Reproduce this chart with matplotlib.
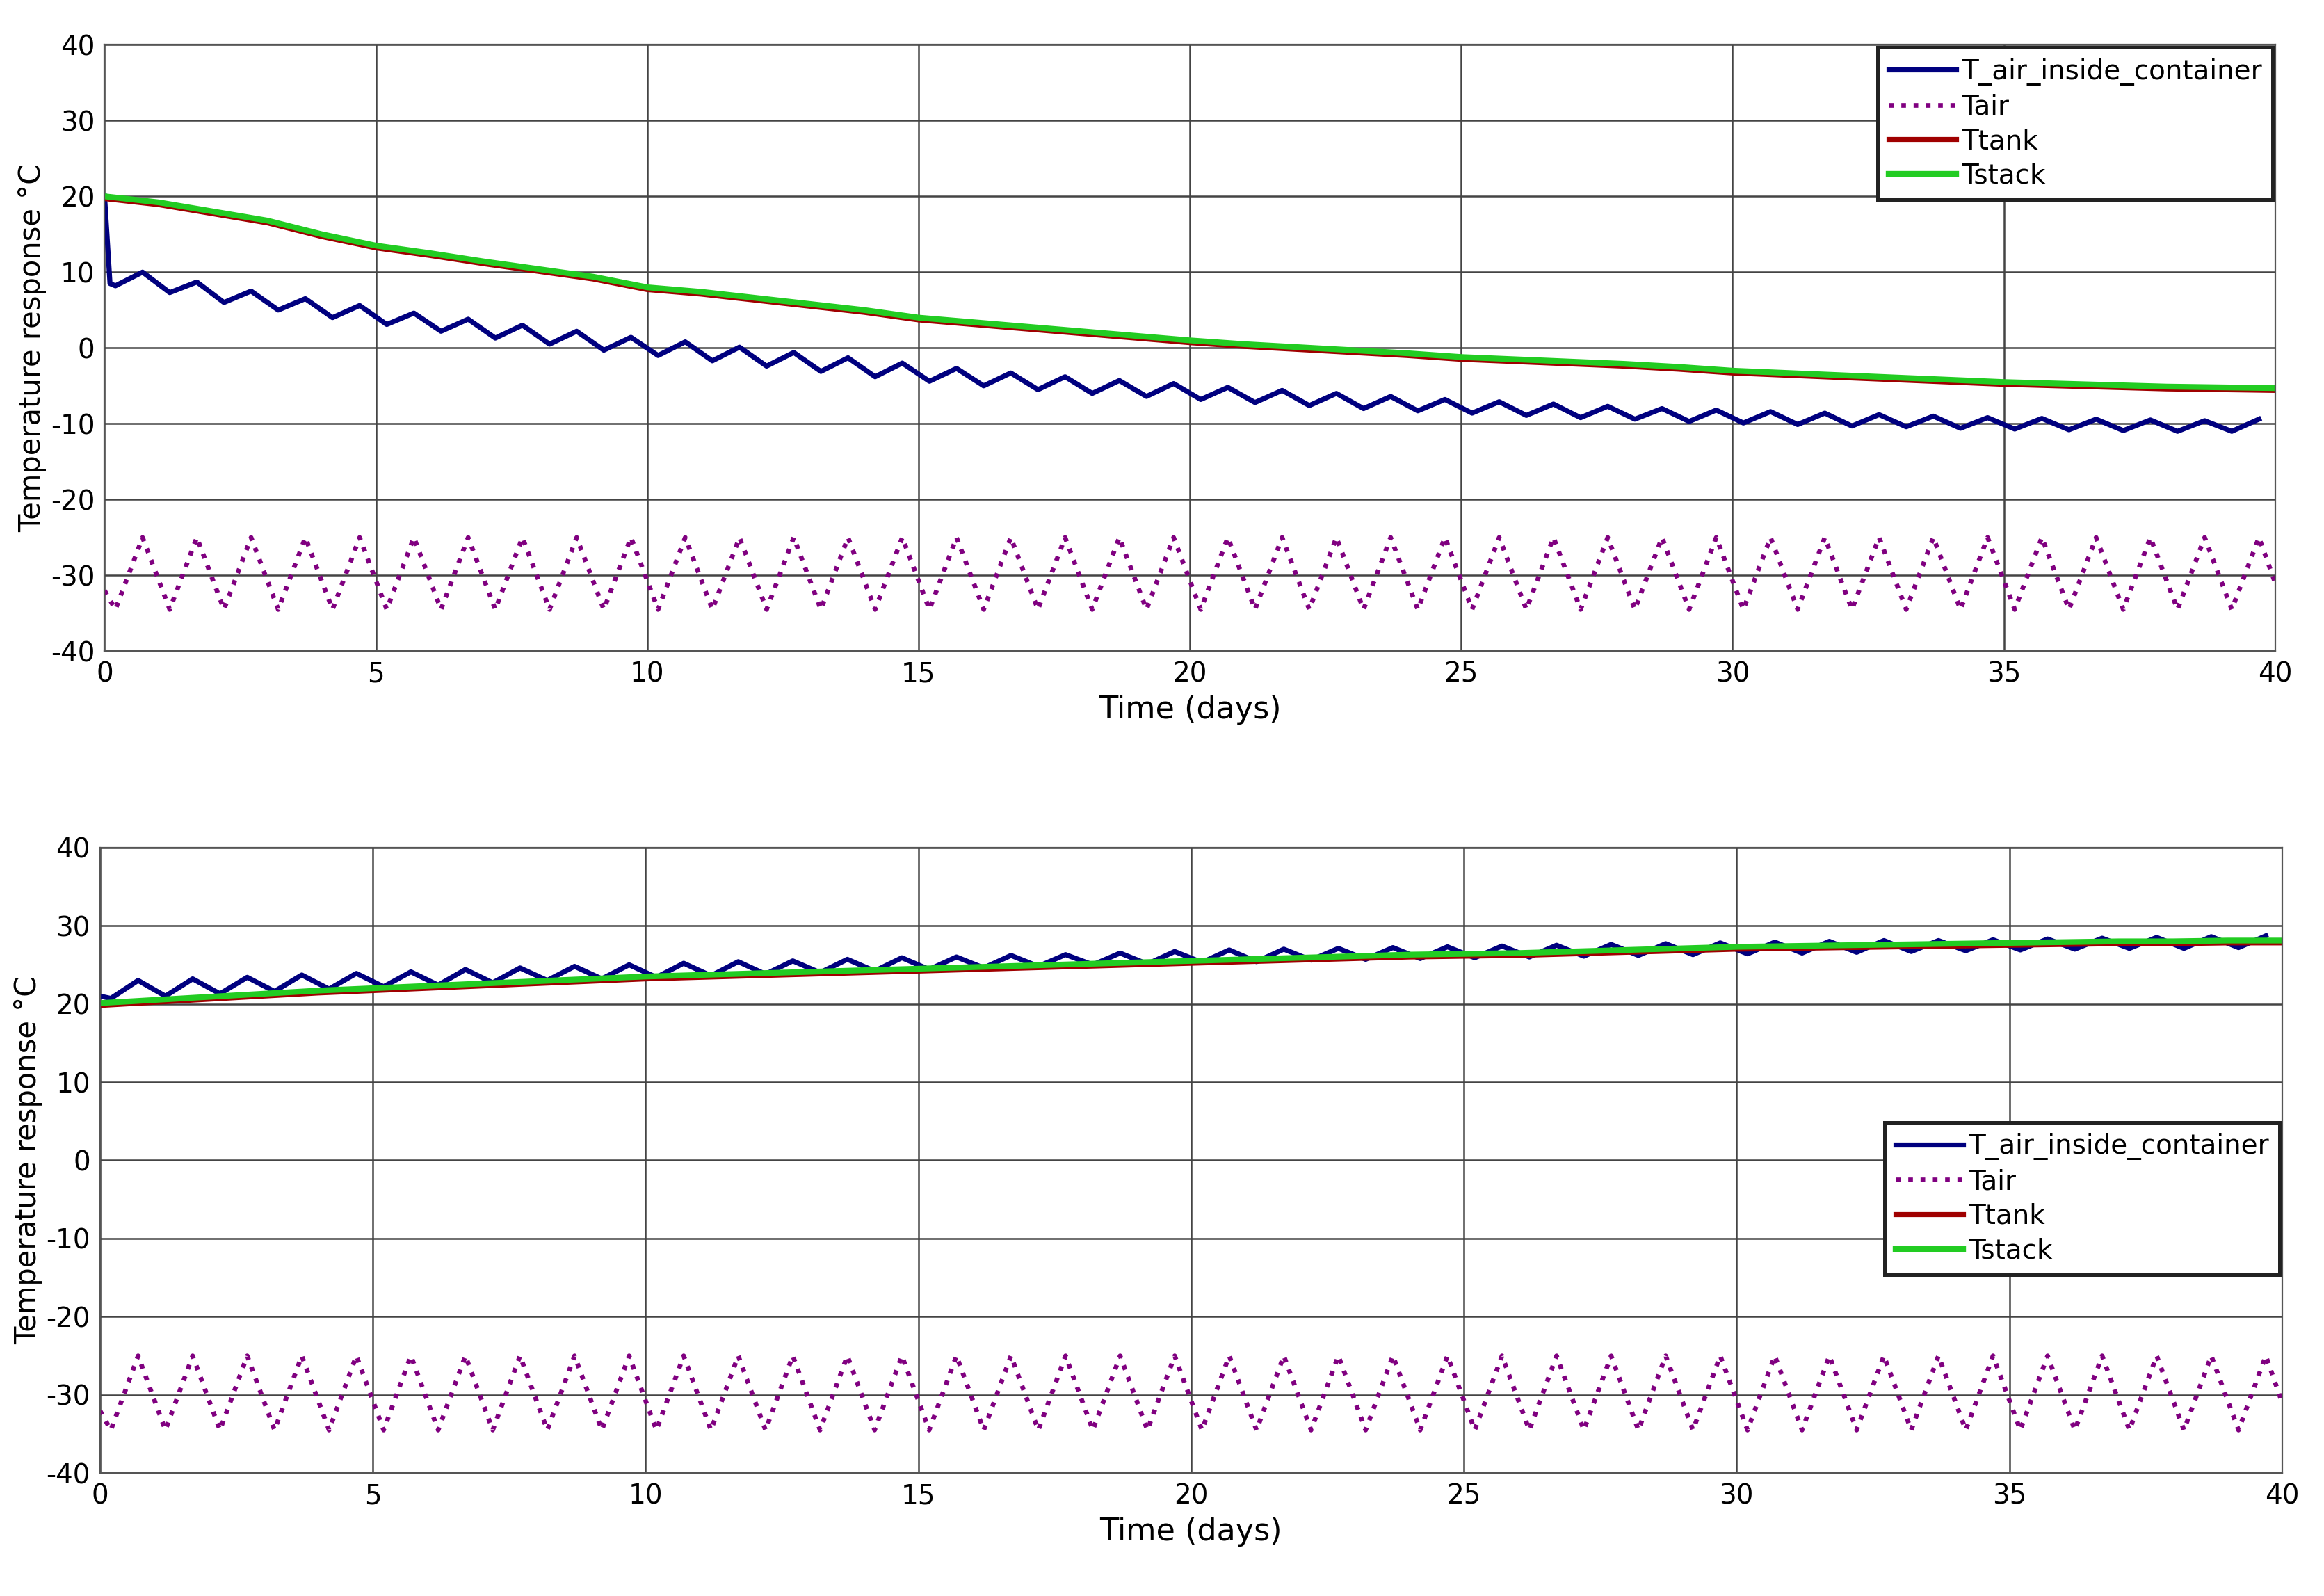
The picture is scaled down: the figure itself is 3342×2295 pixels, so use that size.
import matplotlib
matplotlib.use("Agg")
import matplotlib.pyplot as plt
import numpy as np

plt.rcParams['font.family'] = ['DejaVu Sans']

# ---- Data, samples at troughs / peaks each day ----
days = list(range(40))
top_air_in_peak = [10.0, 8.7, 7.5, 6.5, 5.6, 4.6, 3.8, 3.0, 2.2, 1.4, 0.8, 0.1, -0.6, -1.3,
                   -2.0, -2.7, -3.3, -3.8, -4.3, -4.7, -5.2, -5.6, -6.0, -6.4, -6.8, -7.1,
                   -7.4, -7.7, -8.0, -8.2, -8.4, -8.6, -8.8, -9.0, -9.2, -9.3, -9.4, -9.5,
                   -9.6, -9.4]
top_air_in_trough = [8.2, 7.3, 6.0, 5.0, 4.0, 3.1, 2.2, 1.3, 0.5, -0.3, -1.0, -1.7, -2.4, -3.1,
                     -3.8, -4.4, -5.0, -5.5, -6.0, -6.4, -6.8, -7.2, -7.6, -8.0, -8.3, -8.6,
                     -8.9, -9.2, -9.4, -9.7, -9.9, -10.1, -10.3, -10.4, -10.6, -10.7, -10.8,
                     -10.9, -11.0, -11.0]
tair_start = -32.0
tair_peak = [-25.0, -25.0, -25.0, -25.0, -25.0, -25.0, -25.0, -25.0, -25.0, -25.0,
             -25.0, -25.0, -25.0, -25.0, -25.0, -25.0, -25.0, -25.0, -25.0, -25.0,
             -25.0, -25.0, -25.0, -25.0, -25.0, -25.0, -25.0, -25.0, -25.0, -25.0,
             -25.0, -25.0, -25.0, -25.0, -25.0, -25.0, -25.0, -25.0, -25.0, -25.0]
tair_trough = [-34.5, -34.5, -34.5, -34.5, -34.5, -34.5, -34.5, -34.5, -34.5, -34.5,
               -34.5, -34.5, -34.5, -34.5, -34.5, -34.5, -34.5, -34.5, -34.5, -34.5,
               -34.5, -34.5, -34.5, -34.5, -34.5, -34.5, -34.5, -34.5, -34.5, -34.5,
               -34.5, -34.5, -34.5, -34.5, -34.5, -34.5, -34.5, -34.5, -34.5, -34.5]
tair_end = -31.0
top_tstack = [20.0, 19.2, 18.0, 16.8, 15.0, 13.5, 12.5, 11.4, 10.4, 9.4, 8.0, 7.4, 6.6, 5.8,
              5.0, 4.0, 3.4, 2.8, 2.2, 1.6, 1.0, 0.5, 0.1, -0.3, -0.7, -1.2, -1.5, -1.8,
              -2.1, -2.5, -3.0, -3.3, -3.6, -3.9, -4.2, -4.5, -4.7, -4.9, -5.1, -5.2, -5.3]
top_ttank = [v - 0.3 for v in top_tstack]
bot_air_in_start = 21.0
bot_air_in_peak = [23.0, 23.2, 23.4, 23.7, 23.9, 24.1, 24.4, 24.6, 24.8, 25.0, 25.2, 25.4,
                   25.5, 25.7, 25.9, 26.0, 26.2, 26.3, 26.5, 26.7, 26.9, 27.0, 27.1, 27.2,
                   27.3, 27.4, 27.5, 27.6, 27.7, 27.8, 27.9, 28.0, 28.1, 28.1, 28.2, 28.3,
                   28.4, 28.5, 28.6, 28.7]
bot_air_in_trough = [20.7, 21.0, 21.3, 21.6, 21.9, 22.2, 22.4, 22.7, 23.0, 23.2, 23.4, 23.6,
                     23.8, 24.0, 24.2, 24.4, 24.6, 24.8, 25.0, 25.1, 25.3, 25.4, 25.6, 25.7,
                     25.8, 25.9, 26.0, 26.1, 26.2, 26.3, 26.4, 26.5, 26.6, 26.7, 26.8, 26.9,
                     27.0, 27.1, 27.1, 27.2]
bot_ttank = [19.8, 20.2, 20.6, 21.0, 21.4, 21.7, 22.0, 22.3, 22.6, 22.9, 23.2, 23.4, 23.6,
             23.8, 24.0, 24.2, 24.4, 24.6, 24.8, 25.0, 25.2, 25.4, 25.6, 25.8, 26.0, 26.1,
             26.2, 26.4, 26.6, 26.8, 27.0, 27.1, 27.2, 27.3, 27.4, 27.5, 27.6, 27.7, 27.7,
             27.8, 27.8]
bot_tstack = [v + 0.3 for v in bot_ttank]

labels = ['T_air_inside_container', 'Tair', 'Ttank', 'Tstack']
colors = ['#00007f', '#800080', '#a00000', '#22cc22']


def osc(start_vals, start_t, troughs, peaks, t_tr, t_pk, end=None):
    t, y = list(start_t), list(start_vals)
    for d in days:
        t += [d + t_tr, d + t_pk]
        y += [troughs[d], peaks[d]]
    if end is not None:
        t.append(40.0)
        y.append(end)
    return t, y


fig = plt.figure(figsize=(16.71, 11.475), dpi=200)
ax1 = fig.add_axes([0.045, 0.592, 0.934, 0.380])
ax2 = fig.add_axes([0.043, 0.077, 0.939, 0.392])

panels = [
    (ax1, osc([20.0, 8.5], [0.0, 0.1], top_air_in_trough, top_air_in_peak, 0.2, 0.7),
     top_ttank, top_tstack, (1.0, 1.0)),
    (ax2, osc([bot_air_in_start], [0.0], bot_air_in_trough, bot_air_in_peak, 0.2, 0.7),
     bot_ttank, bot_tstack, (1.0, 0.565)),
]
dd = list(range(41))
for ax, airin, ttank, tstack, anchor in panels:
    ta, ya = osc([tair_start], [0.0], tair_trough, tair_peak, 0.2, 0.7, tair_end)
    ax.plot(airin[0], airin[1], color=colors[0], lw=2.6, label=labels[0])
    ax.plot(ta, ya, color=colors[1], lw=2.4, ls=':', label=labels[1])
    ax.plot(dd, ttank, color=colors[2], lw=2.6, label=labels[2])
    ax.plot(dd, tstack, color=colors[3], lw=3.0, label=labels[3])
    ax.set_xlim(0, 40)
    ax.set_ylim(-40, 40)
    ax.set_xticks(range(0, 41, 5))
    ax.set_yticks(range(-40, 41, 10))
    ax.set_yticklabels([str(v) for v in range(-40, 41, 10)])
    ax.grid(True, color='#444444', lw=0.9)
    ax.tick_params(labelsize=14, length=0, pad=5)
    for s in ax.spines.values():
        s.set_color('#555555')
    ax.set_xlabel('Time (days)', fontsize=16)
    ax.set_ylabel('Temperature response °C', fontsize=15, labelpad=2)
    leg = ax.legend(loc='upper right', bbox_to_anchor=anchor, fontsize=14,
                    fancybox=False, framealpha=1, edgecolor='#222222',
                    borderaxespad=0.1, handlelength=2.5, handletextpad=0.2,
                    labelspacing=0.3)
    leg.get_frame().set_linewidth(1.8)

fig.savefig('out.png', dpi=200)
